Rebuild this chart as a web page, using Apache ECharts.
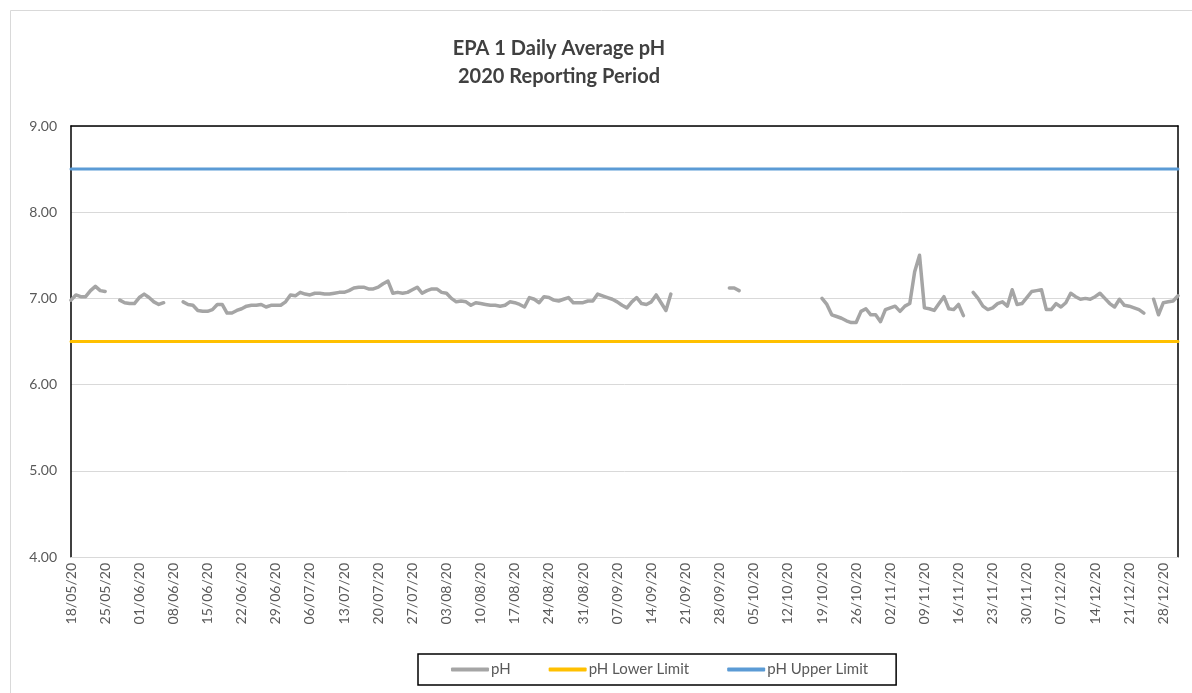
<!DOCTYPE html>
<html><head><meta charset="utf-8">
<script src="https://cdn.jsdelivr.net/npm/echarts@6/dist/echarts.min.js"></script>
<style>html,body{margin:0;padding:0;background:#fff}#c{width:1192px;height:693px}</style>
</head><body><div id="c"></div>
<script>
// ---- data ----
const START_DATE = '2020-05-18';
const DAY_COUNT = 228; // 18/05/20 .. 31/12/20
const titleLines = ['EPA 1 Daily Average pH', '2020 Reporting Period'];
const yTicks = [4, 5, 6, 7, 8, 9];
const lowerLimitValue = 6.5;
const upperLimitValue = 8.5;
const seriesNames = ['pH', 'pH Lower Limit', 'pH Upper Limit'];
// daily average pH (null = no data)
const phValues = [
  6.98,7.04,7.02,7.02,7.09,7.14,7.09,7.08,null,null,
  6.98,6.95,6.94,6.94,7.01,7.05,7.01,6.96,6.93,6.95,
  null,null,null,6.96,6.93,6.92,6.86,6.85,6.85,6.87,
  6.93,6.93,6.83,6.83,6.86,6.88,6.91,6.92,6.92,6.93,
  6.90,6.92,6.92,6.92,6.96,7.04,7.03,7.07,7.05,7.04,
  7.06,7.06,7.05,7.05,7.06,7.07,7.07,7.09,7.12,7.13,
  7.13,7.11,7.11,7.13,7.17,7.20,7.06,7.07,7.06,7.07,
  7.10,7.13,7.06,7.09,7.11,7.11,7.07,7.06,7.00,6.96,
  6.97,6.96,6.92,6.95,6.94,6.93,6.92,6.92,6.91,6.92,
  6.96,6.95,6.93,6.90,7.01,6.99,6.95,7.02,7.01,6.98,
  6.97,6.99,7.01,6.95,6.95,6.95,6.97,6.97,7.05,7.03,
  7.01,6.99,6.96,6.92,6.89,6.96,7.01,6.94,6.93,6.96,
  7.04,6.95,6.86,7.05,null,null,null,null,null,null,
  null,null,null,null,null,7.12,7.12,7.09,null,null,
  null,null,null,null,null,null,null,null,null,null,
  null,null,null,null,7.00,6.93,6.81,6.79,6.77,6.74,
  6.72,6.72,6.85,6.88,6.81,6.81,6.73,6.87,6.89,6.91,
  6.85,6.91,6.94,7.31,7.50,6.89,6.88,6.86,6.94,7.02,
  6.88,6.87,6.93,6.80,null,7.07,7.00,6.91,6.87,6.89,
  6.94,6.96,6.91,7.10,6.93,6.94,7.01,7.08,7.09,7.10,
  6.87,6.87,6.94,6.90,6.95,7.06,7.02,6.99,7.00,6.99,
  7.02,7.06,7.00,6.94,6.90,6.99,6.92,6.91,6.89,6.87,
  6.83,null,6.99,6.81,6.95,6.96,6.97,7.03
];

// ---- categories (dates) ----
const categories = [];
{
  const d0 = new Date(START_DATE + 'T00:00:00Z');
  for (let i = 0; i < DAY_COUNT; i++) {
    const d = new Date(d0.getTime() + i * 86400000);
    const dd = String(d.getUTCDate()).padStart(2, '0');
    const mm = String(d.getUTCMonth() + 1).padStart(2, '0');
    const yy = String(d.getUTCFullYear()).slice(2);
    categories.push(dd + '/' + mm + '/' + yy);
  }
}
const lowerLimit = categories.map(() => lowerLimitValue);
const upperLimit = categories.map(() => upperLimitValue);

const FONT = 'Lato, "Liberation Sans", sans-serif';
const TXT = '#595959';

const chart = echarts.init(document.getElementById('c'), null, {renderer: 'canvas'});
chart.setOption({
  animation: false,
  backgroundColor: '#fff',
  title: {
    text: titleLines.join('\n'),
    left: 554, top: 30, textAlign: 'center',
    textStyle: {fontFamily: FONT, fontSize: 20, fontWeight: 'bold', color: '#404040', lineHeight: 28}
  },
  graphic: [{
    type: 'rect', left: 8, top: 8, shape: {width: 1182, height: 683},
    style: {fill: 'none', stroke: '#d9d9d9', lineWidth: 1}, silent: true
  }],
  grid: {left: 71, right: 14, top: 126, bottom: 136, show: false, containLabel: false},
  legend: {
    data: seriesNames,
    left: 418, top: 654,
    padding: [8, 28, 8, 33],
    itemGap: 38,
    itemWidth: 38, itemHeight: 4,
    icon: 'roundRect',
    borderColor: '#000', borderWidth: 1.5,
    textStyle: {fontFamily: FONT, fontSize: 15, color: TXT, padding: [0, 0, 0, -3]}
  },
  xAxis: [{
    type: 'category',
    data: categories,
    boundaryGap: false,
    axisLine: {show: true, lineStyle: {color: '#d9d9d9', width: 1}},
    axisTick: {show: false},
    axisLabel: {interval: 6, rotate: 90, fontFamily: FONT, fontSize: 14, color: TXT, margin: 6},
    splitLine: {show: false}
  }, {
    type: 'category', position: 'top', data: categories, boundaryGap: false,
    axisLine: {show: true, lineStyle: {color: '#000', width: 1.5}},
    axisTick: {show: false}, axisLabel: {show: false}, splitLine: {show: false}
  }],
  yAxis: [{
    type: 'value', min: yTicks[0], max: yTicks[yTicks.length - 1], interval: 1,
    axisLine: {show: true, lineStyle: {color: '#000', width: 1.5}},
    axisTick: {show: false},
    axisLabel: {fontFamily: FONT, fontSize: 14, color: TXT, margin: 14, formatter: v => v.toFixed(2)},
    splitLine: {show: true, lineStyle: {color: '#d9d9d9', width: 1}}
  }, {
    type: 'value', position: 'right', min: yTicks[0], max: yTicks[yTicks.length - 1], interval: 1,
    axisLine: {show: true, lineStyle: {color: '#000', width: 1.5}},
    axisTick: {show: false}, axisLabel: {show: false}, splitLine: {show: false}
  }],
  series: [
    {name: seriesNames[0], type: 'line', data: phValues, showSymbol: false, symbol: 'none', connectNulls: false,
     lineStyle: {color: '#a5a5a5', width: 3.5, cap: 'round', join: 'round'}, itemStyle: {color: '#a5a5a5'}, z: 3},
    {name: seriesNames[1], type: 'line', data: lowerLimit, showSymbol: false, symbol: 'none',
     lineStyle: {color: '#ffc000', width: 3, cap: 'round'}, itemStyle: {color: '#ffc000'}, z: 2},
    {name: seriesNames[2], type: 'line', data: upperLimit, showSymbol: false, symbol: 'none',
     lineStyle: {color: '#5b9bd5', width: 3, cap: 'round'}, itemStyle: {color: '#5b9bd5'}, z: 2}
  ]
});
</script></body></html>
